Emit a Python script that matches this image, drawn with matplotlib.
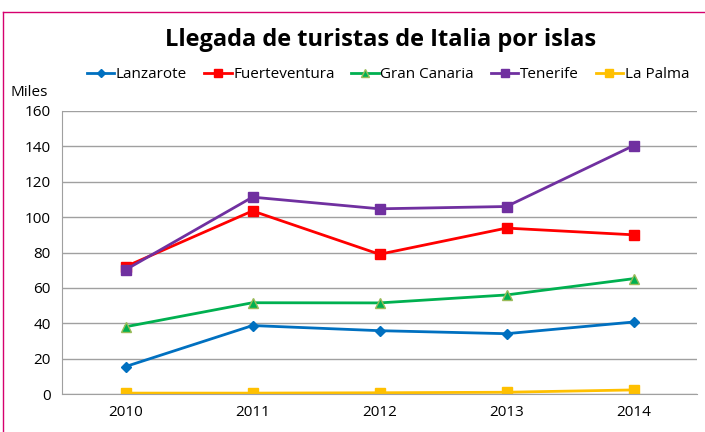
import matplotlib
matplotlib.use("Agg")
import matplotlib.pyplot as plt
from matplotlib.lines import Line2D

plt.rcParams['font.family'] = ['Open Sans', 'DejaVu Sans']

years = ["2010", "2011", "2012", "2013", "2014"]
lanzarote = [15.5, 38.7, 35.8, 34.1, 40.7]
fuerteventura = [72.0, 103.5, 79.0, 93.8, 90.0]
gran_canaria = [38.0, 51.6, 51.5, 56.0, 65.2]
tenerife = [70.2, 111.3, 104.7, 106.0, 140.4]
la_palma = [0.5, 0.5, 0.7, 1.0, 2.3]

series = [
    ("Lanzarote", lanzarote, "#0070C0", "D", 5),
    ("Fuerteventura", fuerteventura, "#FF0000", "s", 7),
    ("Gran Canaria", gran_canaria, "#00B050", "^", 7),
    ("Tenerife", tenerife, "#7030A0", "s", 7),
    ("La Palma", la_palma, "#FFC000", "s", 7),
]

fig = plt.figure(figsize=(7.05, 4.32), dpi=100)
ax = fig.add_axes([62 / 705, 1 - 394 / 432, 635 / 705, 283 / 432])

x = range(len(years))
handles = []
for name, vals, col, mk, ms in series:
    edge = "#9BBB59" if mk == "^" else col
    h, = ax.plot(x, vals, color=col, lw=2, marker=mk, markersize=ms,
                 markeredgecolor=edge, markerfacecolor=col, label=name)
    handles.append(h)

ax.set_xlim(-0.5, len(years) - 0.5)
ax.set_ylim(0, 160)
ax.set_yticks(range(0, 161, 20))
ax.set_xticks(list(x))
ax.set_xticklabels(years)
ax.grid(axis="y", color="#A0A0A0", lw=1)
ax.set_axisbelow(True)
for s in ["top", "right"]:
    ax.spines[s].set_visible(False)
for s in ["left", "bottom"]:
    ax.spines[s].set_color("#A0A0A0")
ax.tick_params(length=0, labelsize=11, pad=8)

fig.text(10 / 705, 1 - 93 / 432, "Miles", fontsize=11, va="center")
fig.text(381 / 705, 1 - 40 / 432, "Llegada de turistas de Italia por islas",
         fontsize=17, fontweight="bold", ha="center", va="center")
fig.legend(handles=handles, loc="center", bbox_to_anchor=(388 / 705, 1 - 75 / 432),
           ncol=5, frameon=False, fontsize=11, handlelength=1.8,
           handletextpad=0.1, columnspacing=1.1, markerscale=0.8)

# chart border (top and left edges visible)
fig.add_artist(Line2D([3 / 705, 1], [1 - 12 / 432, 1 - 12 / 432], color="#D6006E", lw=1))
fig.add_artist(Line2D([3 / 705, 3 / 705], [0, 1 - 12 / 432], color="#D6006E", lw=1))

fig.savefig("out.png", dpi=100)
